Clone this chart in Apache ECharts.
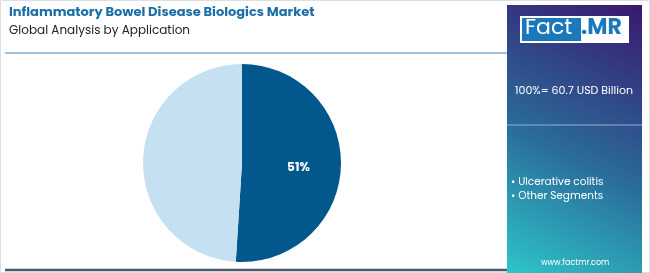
<!DOCTYPE html>
<html><head><meta charset="utf-8">
<script src="https://cdn.jsdelivr.net/npm/echarts@6/dist/echarts.min.js"></script>
<style>html,body{margin:0;padding:0;background:#fff}#c{width:650px;height:273px}</style>
</head><body><div id="c"></div>
<script>
const categories = ['Ulcerative colitis', 'Other Segments'];
const values = [51, 49];
const totalLabel = '100%= 60.7 USD Billion';
const titleText = 'Inflammatory Bowel Disease Biologics Market';
const subtitleText = 'Global Analysis by Application';
const colors = ['#02578c', '#c4e0f1'];

const chart = echarts.init(document.getElementById('c'), null, {renderer: 'canvas'});
const font = 'Poppins, "Open Sans", "Noto Sans", sans-serif';
chart.setOption({
  animation: false,
  graphic: [
    {type: 'rect', shape: {x: 0.5, y: 0.5, width: 649, height: 272}, style: {fill: 'none', stroke: '#dcdfe3', lineWidth: 1}, z: 0},
    {type: 'text', left: 9, top: 6, style: {text: titleText, fill: '#1a6ea6', font: 'bold 13px ' + font}},
    {type: 'text', left: 9, top: 25, style: {text: subtitleText, fill: '#222', font: '12px ' + font}},
    {type: 'line', shape: {x1: 5, y1: 53, x2: 507, y2: 53}, style: {stroke: '#3f86b8', lineWidth: 1}},
    {type: 'line', shape: {x1: 5, y1: 270, x2: 507, y2: 270}, style: {stroke: '#4b5a6a', lineWidth: 2.5}},
    {type: 'rect', shape: {x: 507, y: 5, width: 135, height: 268},
      style: {fill: new echarts.graphic.LinearGradient(0, 1, 1, 0, [
        {offset: 0, color: '#2ec5c9'}, {offset: 0.45, color: '#2a6b9a'}, {offset: 1, color: '#3a1870'}])}},
    {type: 'rect', shape: {x: 520, y: 16, width: 109, height: 27}, style: {fill: '#ffffff'}},
    {type: 'rect', shape: {x: 522, y: 18, width: 59, height: 23}, style: {fill: '#1a78bb'}},
    {type: 'text', left: 525, top: 17, style: {text: 'Fact', fill: '#ffffff', font: '22px ' + font}},
    {type: 'text', left: 581, top: 17, style: {text: '.MR', fill: '#1a78bb', font: 'bold 22px ' + font}},
    {type: 'text', left: 515, top: 86, style: {text: totalLabel, fill: '#ffffff', font: '11px ' + font}},
    {type: 'line', shape: {x1: 507, y1: 125, x2: 642, y2: 125}, style: {stroke: '#8fb3d6', lineWidth: 1}},
    {type: 'text', left: 511, top: 177, style: {text: '\u2022 ' + categories[0], fill: '#ffffff', font: '10.5px ' + font}},
    {type: 'text', left: 511, top: 191, style: {text: '\u2022 ' + categories[1], fill: '#ffffff', font: '10.5px ' + font}},
    {type: 'text', left: 541, top: 259, style: {text: 'www.factmr.com', fill: '#ffffff', font: '8px ' + font}}
  ],
  series: [{
    type: 'pie',
    center: [242, 163],
    radius: [0, 99],
    startAngle: 90,
    clockwise: true,
    silent: true,
    labelLine: {show: false},
    data: categories.map((c, i) => ({
      name: c, value: values[i],
      itemStyle: {color: colors[i]},
      label: {show: i === 0, position: 'inside', offset: [4, 3], formatter: '{d}%', color: '#fff', fontWeight: 'bold', fontSize: 12, fontFamily: font}
    })),
    label: {position: 'inside'}
  }]
});
</script></body></html>
